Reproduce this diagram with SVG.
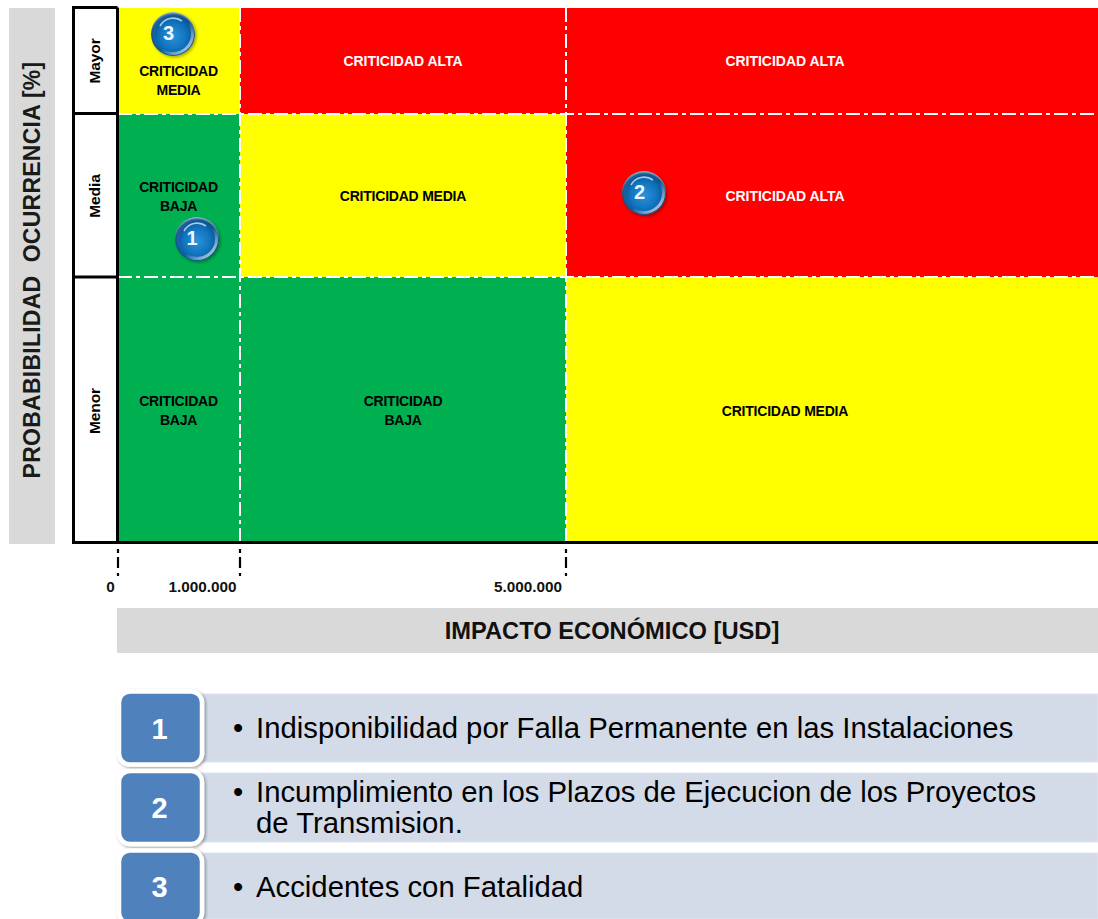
<svg xmlns="http://www.w3.org/2000/svg" width="1098" height="919" viewBox="0 0 1098 919">
<style>
text{font-family:"Liberation Sans",Arial,sans-serif}
.c{font-size:14px;font-weight:700;text-anchor:middle;letter-spacing:-.22px;fill:#000}
.w{fill:#fff;letter-spacing:-.02px}
.r{font-size:15.500px;font-weight:700;text-anchor:middle;letter-spacing:-.1px}
.ax{font-size:15.300px;font-weight:700;text-anchor:middle;fill:#111}
.dash{fill:none;stroke:#fff;stroke-width:2;stroke-dasharray:14 4 4 4}
.tick{fill:none;stroke:#000;stroke-width:2.2;stroke-dasharray:4 4 11 5 3 100}
.band{fill:#d3dbe9;stroke:#dfe4ee;stroke-width:1}
.box{fill:#4f81bd;stroke:#fff;stroke-width:4.5;filter:url(#sh)}
.n{font-size:29px;font-weight:700;text-anchor:middle;fill:#fff}
.t{font-size:29.300px;fill:#000}
.bl{font-size:20px;font-weight:700;text-anchor:middle;fill:#f0f6ff}
</style>
<defs>
<radialGradient id="ball" cx=".5" cy=".55" r=".55"><stop offset="0" stop-color="#2a93dc"/><stop offset=".6" stop-color="#0f70ba"/><stop offset=".88" stop-color="#0b4f8a"/><stop offset="1" stop-color="#a8c4d6"/></radialGradient>
<linearGradient id="rim" x1="0" y1="0" x2="1" y2="1"><stop offset="0" stop-color="#fff" stop-opacity=".1"/><stop offset=".55" stop-color="#fff" stop-opacity="0"/><stop offset="1" stop-color="#fff" stop-opacity=".85"/></linearGradient>
<filter id="sh" x="-20%" y="-20%" width="150%" height="150%"><feDropShadow dx="1.5" dy="1.5" stdDeviation="1.5" flood-color="#000" flood-opacity=".35"/></filter>
<g id="b"><circle r="22" fill="url(#ball)" filter="url(#sh)"/><circle r="19.500" fill="none" stroke="url(#rim)" stroke-width="3"/><path d="M-13 -8A15 15 0 0 1 9 -13" fill="none" stroke="#cfe6f6" stroke-width="1.6" stroke-opacity=".8"/></g>
</defs>
<rect x="9" y="8" width="46" height="536" fill="#d9d9d9"/>
<text transform="translate(40 270) rotate(-90)" font-size="23" font-weight="700" text-anchor="middle" fill="#1a1a1a" letter-spacing=".25" xml:space="preserve">PROBABIBILIDAD  OCURRENCIA [%]</text>
<rect x="117" y="608" width="981" height="45" fill="#d9d9d9"/>
<text x="612" y="639" font-size="23.700" font-weight="700" text-anchor="middle" fill="#111">IMPACTO ECONÓMICO [USD]</text>

<g id="matrix">
<rect x="118" y="8" width="122" height="106" fill="#ff0"/>
<rect x="240" y="8" width="326" height="106" fill="#f00"/>
<rect x="566" y="8" width="532" height="106" fill="#f00"/>
<rect x="118" y="114" width="122" height="163" fill="#00b050"/>
<rect x="240" y="114" width="326" height="163" fill="#ff0"/>
<rect x="566" y="114" width="532" height="163" fill="#f00"/>
<rect x="118" y="277" width="122" height="265" fill="#00b050"/>
<rect x="240" y="277" width="326" height="265" fill="#00b050"/>
<rect x="566" y="277" width="532" height="265" fill="#ff0"/>
</g>
<g id="connectors">
<path class="dash" d="M118 114H1098M118 277H1098M240 8V542M566 8V542"/>
<path class="tick" d="M118 549V576M240 549V576M566 549V576"/>
</g>
<g id="frame" fill="none" stroke="#000" stroke-width="3">
<rect x="74" y="8" width="44" height="106" fill="#fff" stroke="none"/>
<rect x="74" y="114" width="44" height="163" fill="#fff" stroke="none"/>
<rect x="74" y="277" width="44" height="265" fill="#fff" stroke="none"/>
<path d="M117.500 7.500H73.500V542.500H1098M117.500 7.500V542.500M73.500 113.500H117.500M73.500 277H117.500"/>
</g>
<g id="rows">
<text class="r" transform="translate(100 61) rotate(-90)">Mayor</text>
<text class="r" transform="translate(100 196) rotate(-90)">Media</text>
<text class="r" transform="translate(100 411) rotate(-90)">Menor</text>
</g>
<g id="cells">
<text class="c" x="178.500" y="75.500">CRITICIDAD</text><text class="c" x="178.500" y="94.500">MEDIA</text>
<text class="c w" x="403" y="65.500">CRITICIDAD ALTA</text>
<text class="c w" x="785" y="65.500">CRITICIDAD ALTA</text>
<text class="c" x="178.500" y="192">CRITICIDAD</text><text class="c" x="178.500" y="211">BAJA</text>
<text class="c" x="403" y="201">CRITICIDAD MEDIA</text>
<text class="c w" x="785" y="200.500">CRITICIDAD ALTA</text>
<text class="c" x="178.500" y="406">CRITICIDAD</text><text class="c" x="178.500" y="425">BAJA</text>
<text class="c" x="403" y="406">CRITICIDAD</text><text class="c" x="403" y="425">BAJA</text>
<text class="c" x="785" y="416">CRITICIDAD MEDIA</text>
</g>
<g id="axis">
<text class="ax" x="110.500" y="592">0</text>
<text class="ax" x="202.500" y="592">1.000.000</text>
<text class="ax" x="528" y="592">5.000.000</text>
</g>
<g id="ball-3"><use href="#b" x="173" y="34"/><text class="bl" x="168.500" y="40">3</text></g>
<g id="ball-1"><use href="#b" x="197" y="239"/><text class="bl" x="192" y="245">1</text></g>
<g id="ball-2"><use href="#b" x="644" y="193"/><text class="bl" x="639.500" y="199">2</text></g>
<g id="item-1">
<rect class="band" x="190" y="694" width="908" height="68"/>
<rect class="box" x="119" y="691.500" width="83" height="73" rx="11"/>
<text class="n" x="159.500" y="739">1</text>
<text class="t" x="233" y="738">•</text><text class="t" x="256" y="738">Indisponibilidad por Falla Permanente en las Instalaciones</text>
</g>
<g id="item-2">
<rect class="band" x="190" y="773" width="908" height="69"/>
<rect class="box" x="119" y="771" width="83" height="73" rx="11"/>
<text class="n" x="159.500" y="818">2</text>
<text class="t" x="233" y="802">•</text><text class="t" x="256" y="802">Incumplimiento en los Plazos de Ejecucion de los Proyectos</text>
<text class="t" x="256" y="833">de Transmision.</text>
</g>
<g id="item-3">
<rect class="band" x="190" y="853" width="908" height="66"/>
<rect class="box" x="119" y="850.500" width="83" height="73" rx="11"/>
<text class="n" x="159.500" y="897">3</text>
<text class="t" x="233" y="897">•</text><text class="t" x="256" y="897">Accidentes con Fatalidad</text>
</g>
</svg>
